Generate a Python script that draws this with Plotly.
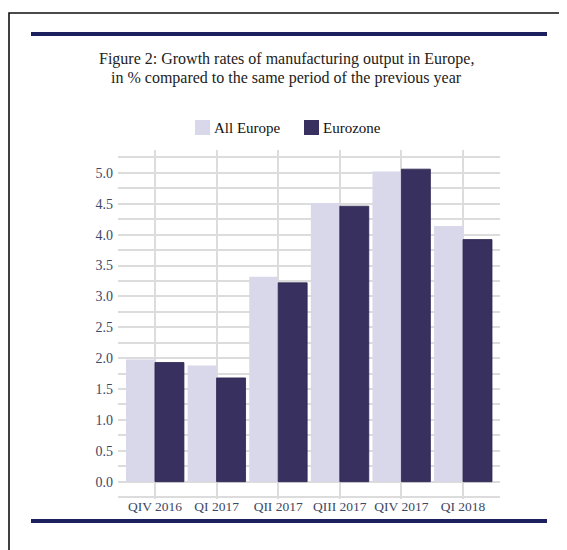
import plotly.graph_objects as go

categories = ["QIV 2016", "QI 2017", "QII 2017", "QIII 2017", "QIV 2017", "QI 2018"]
all_europe = [1.98, 1.88, 3.32, 4.51, 5.02, 4.14]
eurozone = [1.93, 1.68, 3.22, 4.46, 5.06, 3.92]
y_tickvals = [0.0, 0.5, 1.0, 1.5, 2.0, 2.5, 3.0, 3.5, 4.0, 4.5, 5.0]
y_ticktext = ["0.0", "0.5", "1.0", "1.5", "2.0", "2.5", "3.0", "3.5", "4.0", "4.5", "5.0"]
series_names = ["All Europe", "Eurozone"]
series_colors = ["#d9d7ea", "#38305e"]

SERIF = "Liberation Serif, Times New Roman, serif"
TICK_COLOR = "#3d4866"
GRID = "#dcdcdc"
RULE = "#1d205e"

# page offset of the figure inside the browser (body margin)
OFF = 8
W, H = 567, 550
L, R, T, B = 110, 75, 142, 59
PW = W - L - R
PH = H - T - B


def px_x(p):
    """reference-screen x pixel -> paper coordinate"""
    return (p - OFF - L) / PW


def px_y(p):
    """reference-screen y pixel -> paper coordinate"""
    return (H - B - (p - OFF)) / PH


fig = go.Figure()
fig.add_trace(go.Bar(
    name=series_names[0], x=categories, y=all_europe,
    marker=dict(color=series_colors[0], line=dict(width=0)),
))
fig.add_trace(go.Bar(
    name=series_names[1], x=categories, y=eurozone,
    marker=dict(color=series_colors[1], line=dict(color="#2a2450", width=0.8)),
))

shapes = [
    # outer frame
    dict(type="rect", xref="paper", yref="paper",
         x0=px_x(9), x1=px_x(590), y0=px_y(13), y1=px_y(590),
         line=dict(color="#111111", width=1.6), fillcolor="rgba(0,0,0,0)", layer="below"),
    # top rule
    dict(type="line", xref="paper", yref="paper",
         x0=px_x(31), x1=px_x(547), y0=px_y(34), y1=px_y(34),
         line=dict(color=RULE, width=4)),
    # bottom rule
    dict(type="line", xref="paper", yref="paper",
         x0=px_x(31), x1=px_x(547), y0=px_y(521), y1=px_y(521),
         line=dict(color=RULE, width=4)),
]

# legend (drawn manually for exact swatch size / spacing)
legend_swatch_x = [195, 304]
annotations = []
for name, color, sx in zip(series_names, series_colors, legend_swatch_x):
    shapes.append(dict(type="rect", xref="paper", yref="paper",
                       x0=px_x(sx), x1=px_x(sx + 15), y0=px_y(120), y1=px_y(135),
                       fillcolor=color, line=dict(width=0)))
    annotations.append(dict(xref="paper", yref="paper", x=px_x(sx + 17), y=px_y(127.5),
                            xanchor="left", yanchor="middle", showarrow=False,
                            text=name, font=dict(family=SERIF, size=15, color="#111111")))

title_lines = [
    "Figure 2: Growth rates of manufacturing output in Europe,",
    "in % compared to the same period of the previous year",
]
for line, yc in zip(title_lines, [59, 78]):
    annotations.append(dict(xref="paper", yref="paper", x=px_x(286), y=px_y(yc),
                            xanchor="center", yanchor="middle", showarrow=False,
                            text=line, font=dict(family=SERIF, size=16, color="#222222")))

fig.update_layout(
    width=W, height=H,
    margin=dict(l=L, r=R, t=T, b=B),
    paper_bgcolor="white", plot_bgcolor="white",
    barmode="group", bargap=0.06, bargroupgap=0.0,
    showlegend=False,
    shapes=shapes,
    annotations=annotations,
    xaxis=dict(
        range=[-0.6, 5.6], showgrid=True, gridcolor=GRID, gridwidth=1.5,
        showline=False, zeroline=False, ticks="",
        tickfont=dict(family=SERIF, size=13.5, color=TICK_COLOR),
        ticklabelstandoff=-3,
    ),
    yaxis=dict(
        range=[-0.28, 5.37], tickvals=y_tickvals, ticktext=y_ticktext,
        showgrid=True, gridcolor=GRID, gridwidth=1.5,
        minor=dict(dtick=0.25, tick0=0, showgrid=True, gridcolor=GRID, gridwidth=1.5),
        zeroline=False, showline=False, ticks="",
        tickfont=dict(family=SERIF, size=14, color=TICK_COLOR),
        ticklabelstandoff=4,
    ),
)

fig.write_html("out.html")
